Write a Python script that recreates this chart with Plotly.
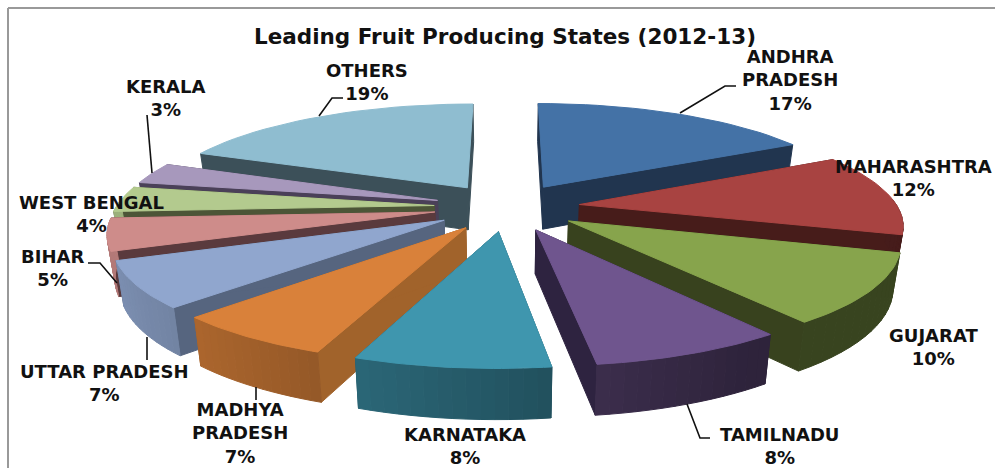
import math
import plotly.graph_objects as go

categories = ["ANDHRA<br>PRADESH", "MAHARASHTRA", "GUJARAT", "TAMILNADU", "KARNATAKA",
              "MADHYA<br>PRADESH", "UTTAR PRADESH", "BIHAR", "WEST BENGAL", "KERALA", "OTHERS"]
values = [17.2, 12.3, 10.3, 8.0, 8.0, 6.7, 6.8, 4.8, 3.8, 3.2, 18.9]
title_text = "Leading Fruit Producing States (2012-13)"

top_colors = ["#4472A6", "#A84341", "#87A44C", "#6F558E", "#3F96AE", "#D9813A",
              "#90A6CE", "#CE8C8A", "#B3CA8E", "#A798BC", "#8FBDD0"]
inner_colors = ["#21354F", "#471C1A", "#38421E", "#2E2340", "#245766", "#A1632B",
                "#56657F", "#5A3A3D", "#4C5537", "#4A4058", "#3C5059"]
label_pos = [(790, 80), (913, 178), (933, 347), (779, 446), (465, 446),
             (240, 433), (104, 383), (52, 268), (91, 214), (166, 98), (367, 82)]
leaders = [[(680, 113), (725, 86), (736, 86)],
           [(319, 116), (332, 98), (343, 98)],
           [(152, 173), (147, 115)],
           [(117, 283), (100, 263), (88, 263)],
           [(147, 337), (147, 360)],
           [(256, 387), (256, 400)],
           [(687, 404), (700, 438), (710, 438)]]

CX, CY, RX, RY, DEPTH, PERSP, EXPLODE = 507, 207, 318, 104, 43, 0.17, 0.23
STRIPS, ARC = 14, 6


def project(px, py, z=0.0):
    s = 1 / (1 + PERSP * py)
    k = 1 - 0.02 * z
    return CX + RX * px * s * k, CY - RY * py * s * k + DEPTH * z * s


def shade(hex_color, f):
    r, g, b = [int(hex_color[i:i + 2], 16) for i in (1, 3, 5)]
    return f"rgb({int(r * f)},{int(g * f)},{int(b * f)})"


def poly(fig, pts, color):
    fig.add_trace(go.Scatter(x=[p[0] for p in pts] + [pts[0][0]],
                             y=[p[1] for p in pts] + [pts[0][1]],
                             mode="lines", fill="toself", fillcolor=color,
                             line=dict(color=color, width=1),
                             hoverinfo="skip", showlegend=False))


total = sum(values)
slices = []
acc = 0
for i, v in enumerate(values):
    a0 = 2 * math.pi * acc / total
    a1 = 2 * math.pi * (acc + v) / total
    acc += v
    slices.append((i, a0, a1))

fig = go.Figure()
order = sorted(slices, key=lambda t: -math.cos((t[1] + t[2]) / 2))
for i, a0, a1 in order:
    mid = (a0 + a1) / 2
    ax, ay = EXPLODE * math.sin(mid), EXPLODE * math.cos(mid)

    def pt(a, r=1.0, z=0.0):
        return project(ax + r * math.sin(a), ay + r * math.cos(a), z)

    apex_t, apex_b = project(ax, ay, 0), project(ax, ay, 1)
    for a in (a0, a1):
        poly(fig, [apex_t, pt(a), pt(a, z=1), apex_b], inner_colors[i])
    for j in range(STRIPS):
        b0 = a0 + (a1 - a0) * j / STRIPS
        b1 = a0 + (a1 - a0) * (j + 1) / STRIPS
        bm = (b0 + b1) / 2
        if math.cos(bm) > 0.05:
            continue
        f = max(0.42, 0.58 - 0.3 * math.sin(bm))
        poly(fig, [pt(b0), pt(b1), pt(b1, z=1), pt(b0, z=1)], shade(top_colors[i], f))
    arc = [pt(a0 + (a1 - a0) * j / (ARC * 4)) for j in range(ARC * 4 + 1)]
    poly(fig, [apex_t] + arc, top_colors[i])

for seg in leaders:
    fig.add_trace(go.Scatter(x=[p[0] for p in seg], y=[p[1] for p in seg], mode="lines",
                             line=dict(color="#111111", width=1.6), hoverinfo="skip", showlegend=False))

FONT = "DejaVu Sans"
for name, v, (x, y) in zip(categories, values, label_pos):
    fig.add_annotation(x=x, y=y, text=f"{name}<br>{round(v)}%", showarrow=False, xanchor="center", yanchor="middle",
                       font=dict(family=FONT, size=18, color="#111111", weight=600))

fig.add_annotation(x=505, y=36, text=title_text, showarrow=False, xanchor="center", yanchor="middle",
                   font=dict(family=FONT, size=21.5, color="#111111", weight=700))

fig.add_shape(type="line", x0=8, x1=995, y0=8, y1=8, line=dict(color="#999999", width=2))
fig.add_shape(type="line", x0=8, x1=8, y0=8, y1=468, line=dict(color="#999999", width=2))

fig.update_layout(width=995, height=468, margin=dict(l=0, r=0, t=0, b=0),
                  paper_bgcolor="white", plot_bgcolor="white", showlegend=False,
                  xaxis=dict(range=[0, 995], visible=False, fixedrange=True),
                  yaxis=dict(range=[468, 0], visible=False, fixedrange=True))
fig.write_html("out.html", config={"displayModeBar": False},
               post_script="document.body.style.margin='0';document.body.style.overflow='hidden';")
